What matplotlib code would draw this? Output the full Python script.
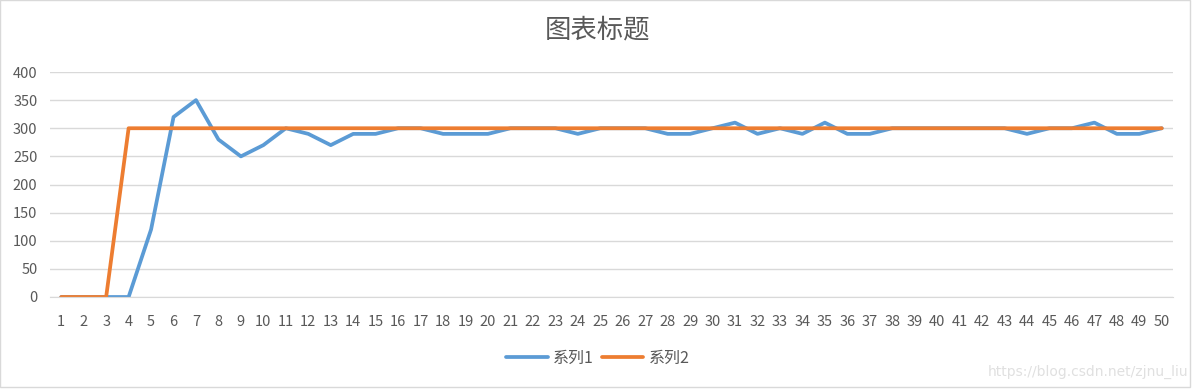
import matplotlib
matplotlib.use("Agg")
import matplotlib.pyplot as plt
from matplotlib.patches import Rectangle

plt.rcParams['font.family'] = ['Noto Sans CJK SC', 'DejaVu Sans']

x = list(range(1, 51))
s1 = [0, 0, 0, 0, 120, 320, 350, 280, 250, 270,
      300, 290, 270, 290, 290, 300, 300, 290, 290, 290,
      300, 300, 300, 290, 300, 300, 300, 290, 290, 300,
      310, 290, 300, 290, 310, 290, 290, 300, 300, 300,
      300, 300, 300, 290, 300, 300, 310, 290, 290, 300]
s2 = [0, 0, 0] + [300] * 47
yticks = [0, 50, 100, 150, 200, 250, 300, 350, 400]

fig = plt.figure(figsize=(11.95, 3.89), dpi=100)
ax = fig.add_axes([50 / 1195, 1 - 297 / 389, 1123 / 1195, 225 / 389])

ax.plot(x, s1, color='#5B9BD5', lw=2.7, label='系列1', solid_capstyle='round')
ax.plot(x, s2, color='#ED7D31', lw=2.7, label='系列2', solid_capstyle='round')

ax.set_xlim(0.5, 50.5)
ax.set_ylim(0, 400)
ax.set_yticks(yticks)
ax.set_xticks(x)
ax.grid(axis='y', color='#D9D9D9', lw=1)
ax.set_axisbelow(True)
for sp in ['top', 'left', 'right']:
    ax.spines[sp].set_visible(False)
ax.spines['bottom'].set_color('#D9D9D9')
ax.tick_params(length=0, labelsize=10.5, colors='#595959')
ax.tick_params(axis='y', pad=9)
ax.tick_params(axis='x', pad=13)

fig.text(0.5, 1 - 30 / 389, '图表标题', ha='center', va='center',
         fontsize=19, color='#595959')

fig.legend(loc='center', bbox_to_anchor=(598 / 1195, 1 - 358 / 389), ncol=2,
           frameon=False, fontsize=11.5, handlelength=2.6, columnspacing=0.5,
           handletextpad=0.35, labelcolor='#595959')

fig.text(1188 / 1195, 1 - 372 / 389, 'https://blog.csdn.net/zjnu_liu',
         ha='right', va='center', fontsize=10, color='#E0E0E0',
         family='DejaVu Sans')

fig.patches.append(Rectangle((0, 0.004), 0.996, 0.995, transform=fig.transFigure,
                             fill=False, edgecolor='#D9D9D9', lw=1))

fig.savefig('out.png', dpi=100)
